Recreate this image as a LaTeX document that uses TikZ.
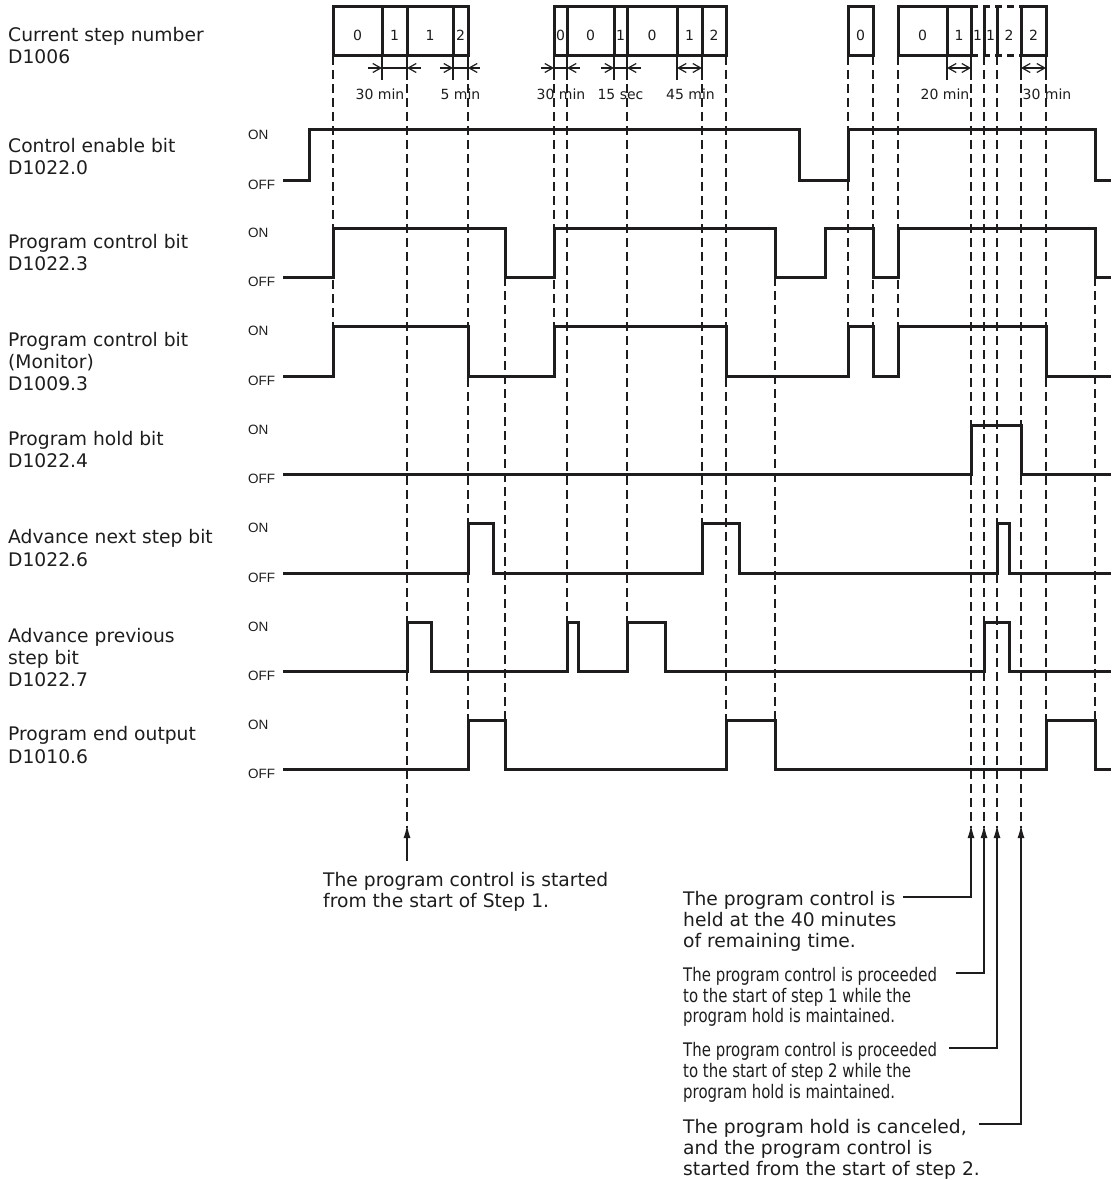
\documentclass[tikz,border=0pt]{standalone}
\usepackage{fontspec}
\setmainfont{DejaVu Sans}
\newfontfamily\arialf{Liberation Sans}
\newfontfamily\narrowf[FakeStretch=0.8]{DejaVu Sans}
\usetikzlibrary{arrows.meta}
\definecolor{ink}{RGB}{30,28,28}
\begin{document}
\begin{tikzpicture}[x=1pt,y=-1pt,
  sig/.style={draw=ink,line width=3pt},
  guide/.style={draw=ink,line width=2.3pt,dash pattern=on 9pt off 5pt},
  boxline/.style={draw=ink,line width=3pt},
  dimline/.style={draw=ink,line width=1.2pt},
  barb/.style={-{Straight Barb[length=8pt,width=9pt]}},
  callout/.style={draw=ink,line width=1.4pt,-{Latex[length=13pt,width=7pt]}},
  lbl/.style={font=\fontsize{18.7}{22}\selectfont,anchor=base west,inner sep=0,text=ink},
  note/.style={font=\narrowf\fontsize{18.7}{22}\selectfont,anchor=base west,inner sep=0,text=ink},
  onoff/.style={font=\arialf\fontsize{13.5}{16}\selectfont,anchor=base west,inner sep=0,text=ink},
  small/.style={font=\fontsize{14}{16}\selectfont,anchor=base,inner sep=0,text=ink}]
\useasboundingbox (0,0) rectangle (1111,1180);

% ---------- left labels ----------
\node[lbl] (t1a) at (8,41.5) {Current step number};
\node[lbl] (t1b) at (8,63.5) {D1006};
\node[lbl] (t2a) at (8,152.5) {Control enable bit};
\node[lbl] (t2b) at (8,174.5) {D1022.0};
\node[lbl] (t3a) at (8,248.5) {Program control bit};
\node[lbl] (t3b) at (8,270.5) {D1022.3};
\node[lbl] (t4a) at (8,346.5) {Program control bit};
\node[lbl] (t4b) at (8,368.5) {(Monitor)};
\node[lbl] (t4c) at (8,390.5) {D1009.3};
\node[lbl] (t5a) at (8,445.5) {Program hold bit};
\node[lbl] (t5b) at (8,467.5) {D1022.4};
\node[lbl] (t6a) at (8,543.5) {Advance next step bit};
\node[lbl] (t6b) at (8,566.5) {D1022.6};
\node[lbl] (t7a) at (8,642.5) {Advance previous};
\node[lbl] (t7b) at (8,664.5) {step bit};
\node[lbl] (t7c) at (8,686.5) {D1022.7};
\node[lbl] (t8a) at (8,740.5) {Program end output};
\node[lbl] (t8b) at (8,763.5) {D1010.6};

% ---------- ON / OFF labels ----------
\foreach \on/\off/\n in {130/180/1,228/277/2,326/376/3,425/474/4,523/573/5,622/671/6,720/769/7}{
  \node[onoff] (on\n) at (248,\on+9.5) {ON};
  \node[onoff] (off\n) at (248,\off+9.5) {OFF};
}

% ---------- dashed guide lines ----------
\foreach \x/\a/\b in {333/56/326,407/56/828,468/56/720,505/277/720,554/56/326,
  567/56/622,627/56/622,702/56/523,726/56/720,775/277/720,848/56/326,873/56/326,
  898/56/326,971/56/828,984/56/828,997/56/828,1021/56/828,1046/56/720,1095/277/720}
  \draw[guide] (\x,\a) -- (\x,\b);

% ---------- step number boxes ----------
\draw[boxline] (333,7) rectangle (468,56);
\foreach \x in {382,407,453} \draw[boxline] (\x,7) -- (\x,56);
\draw[boxline] (554,7) rectangle (726,56);
\foreach \x in {567,614,627,677,702} \draw[boxline] (\x,7) -- (\x,56);
\draw[boxline] (848,7) rectangle (873,56);
\draw[boxline] (898,7) rectangle (971,56);
\draw[boxline] (947,7) -- (947,56);
\draw[boxline,dash pattern=on 7pt off 5pt] (971,7) -- (1021,7);
\draw[boxline,dash pattern=on 7pt off 5pt] (971,56) -- (1021,56);
\foreach \x in {984,997} \draw[boxline] (\x,7) -- (\x,56);
\draw[boxline] (1021,7) rectangle (1046,56);

\node[small] (d1) at (357.5,41) {0};
\node[small] (d2) at (394.5,41) {1};
\node[small] (d3) at (430,41) {1};
\node[small] (d4) at (460.5,41) {2};
\node[small] (d5) at (560.5,41) {0};
\node[small] (d6) at (590.5,41) {0};
\node[small] (d7) at (620.5,41) {1};
\node[small] (d8) at (652,41) {0};
\node[small] (d9) at (689.5,41) {1};
\node[small] (d10) at (714,41) {2};
\node[small] (d11) at (860.5,41) {0};
\node[small] (d12) at (922.5,41) {0};
\node[small] (d13) at (959,41) {1};
\node[small] (d14) at (977.5,41) {1};
\node[small] (d15) at (990.5,41) {1};
\node[small] (d16) at (1009,41) {2};
\node[small] (d17) at (1033.5,41) {2};

% ---------- dimension lines ----------
\foreach \x in {382,407,453,468,554,567,614,627,677,702,947,971,1021,1046}
  \draw[dimline] (\x,56) -- (\x,80);
\draw[dimline,barb] (368,68) -- (382,68);
\draw[dimline] (382,68) -- (407,68);
\draw[dimline,barb] (421,68) -- (407,68);
\draw[dimline,barb] (440,68) -- (453,68);
\draw[dimline] (453,68) -- (468,68);
\draw[dimline,barb] (480,68) -- (468,68);
\draw[dimline,barb] (541,68) -- (554,68);
\draw[dimline] (554,68) -- (567,68);
\draw[dimline,barb] (580,68) -- (567,68);
\draw[dimline,barb] (601,68) -- (614,68);
\draw[dimline] (614,68) -- (627,68);
\draw[dimline,barb] (641,68) -- (627,68);
\draw[dimline,{Straight Barb[length=8pt,width=9pt]}-{Straight Barb[length=8pt,width=9pt]}] (677,68) -- (702,68);
\draw[dimline,{Straight Barb[length=8pt,width=9pt]}-{Straight Barb[length=8pt,width=9pt]}] (947,68) -- (971,68);
\draw[dimline,{Straight Barb[length=8pt,width=9pt]}-{Straight Barb[length=8pt,width=9pt]}] (1021,68) -- (1046,68);

\node[small] (m1) at (380,100) {30 min};
\node[small] (m2) at (460.5,100) {5 min};
\node[small] (m3) at (561,100) {30 min};
\node[small] (m4) at (620.5,100) {15 sec};
\node[small] (m5) at (690.5,100) {45 min};
\node[small] (m6) at (945,100) {20 min};
\node[small] (m7) at (1047,100) {30 min};

% ---------- waveforms ----------
\draw[sig] (283,180) -| (309,130) -| (799,180) -| (848,130) -| (1095,180) -- (1111,180);
\draw[sig] (283,277) -| (333,228) -| (505,277) -| (554,228) -| (775,277) -| (825,228)
  -| (873,277) -| (898,228) -| (1095,277) -- (1111,277);
\draw[sig] (283,376) -| (333,326) -| (468,376) -| (554,326) -| (726,376) -| (848,326)
  -| (873,376) -| (898,326) -| (1046,376) -- (1111,376);
\draw[sig] (283,474) -| (971,425) -| (1021,474) -- (1111,474);
\draw[sig] (283,573) -| (468,523) -| (493,573) -| (702,523) -| (739,573) -| (997,523)
  -| (1009,573) -- (1111,573);
\draw[sig] (283,671) -| (407,622) -| (431,671) -| (567,622) -| (578,671) -| (627,622)
  -| (665,671) -| (984,622) -| (1009,671) -- (1111,671);
\draw[sig] (283,769) -| (468,720) -| (505,769) -| (726,720) -| (775,769) -| (1046,720)
  -| (1095,769) -- (1111,769);

% ---------- annotations ----------
\node[lbl] (n1a) at (323,886) {The program control is started};
\node[lbl] (n1b) at (323,907) {from the start of Step 1.};
\coordinate (s1) at (407,861);
\coordinate (p1) at (407,825);
\draw[callout] (s1) -- (p1);

\node[lbl] (r1a) at (683,905) {The program control is};
\node[lbl] (r1b) at (683,926) {held at the 40 minutes};
\node[lbl] (r1c) at (683,947) {of remaining time.};
\node[note] (r2a) at (683,981) {The program control is proceeded};
\node[note] (r2b) at (683,1002) {to the start of step 1 while the};
\node[note] (r2c) at (683,1022) {program hold is maintained.};
\node[note] (r3a) at (683,1056) {The program control is proceeded};
\node[note] (r3b) at (683,1077) {to the start of step 2 while the};
\node[note] (r3c) at (683,1098) {program hold is maintained.};
\node[lbl] (r4a) at (683,1133) {The program hold is canceled,};
\node[lbl] (r4b) at (683,1154) {and the program control is};
\node[lbl] (r4c) at (683,1175) {started from the start of step 2.};

\coordinate (c1) at (903,897);
\coordinate (c2) at (956,973);
\coordinate (c3) at (949,1048);
\coordinate (c4) at (979,1124);
\coordinate (q1) at (971,825);
\coordinate (q2) at (984,825);
\coordinate (q3) at (997,825);
\coordinate (q4) at (1021,825);
\draw[callout] (c1) -| (q1);
\draw[callout] (c2) -| (q2);
\draw[callout] (c3) -| (q3);
\draw[callout] (c4) -| (q4);
\end{tikzpicture}
\end{document}
